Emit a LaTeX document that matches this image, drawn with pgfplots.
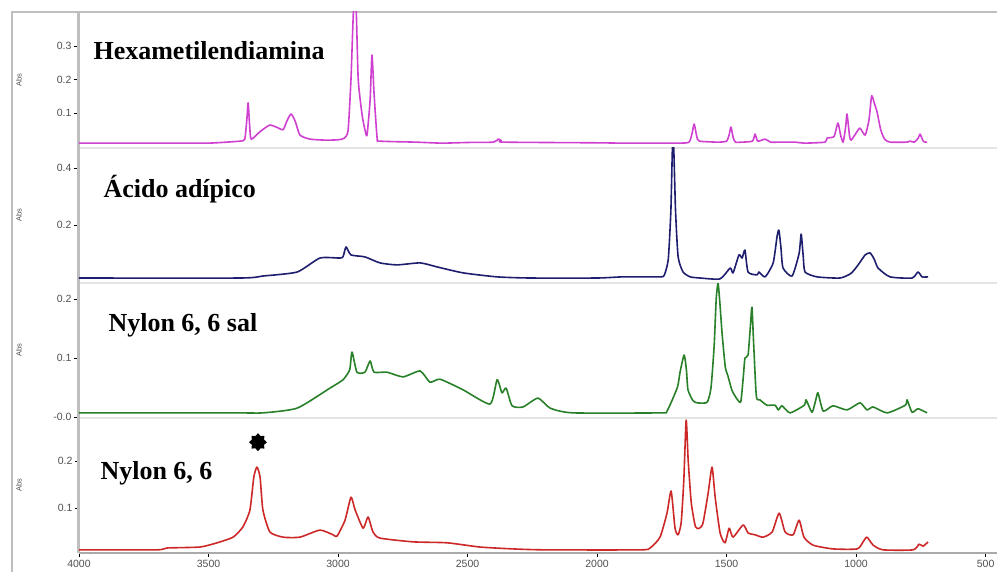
\documentclass[border=0pt]{standalone}
\usepackage{pgfplots}
\pgfplotsset{compat=1.18}
\usepackage{fontspec}
\setmainfont{Liberation Serif}
\newfontfamily\tickfont{Liberation Sans}
\definecolor{cmag}{RGB}{208,64,208}
\definecolor{cnavy}{RGB}{30,30,110}
\definecolor{cgreen}{RGB}{40,128,40}
\definecolor{cred}{RGB}{205,40,40}
\definecolor{frameg}{RGB}{190,190,190}
\definecolor{sepg}{RGB}{228,228,228}
\definecolor{botg}{RGB}{170,170,170}
\definecolor{ticktext}{RGB}{80,80,80}

\pgfdeclareplotmark{burst}{%
  \pgfmathsetlengthmacro\rO{\pgfplotmarksize}%
  \pgfmathsetlengthmacro\rI{0.74*\pgfplotmarksize}%
  \pgfpathmoveto{\pgfpointpolar{90}{\rO}}%
  \pgfpathlineto{\pgfpointpolar{112.5}{\rI}}%
  \pgfpathlineto{\pgfpointpolar{135}{\rO}}%
  \pgfpathlineto{\pgfpointpolar{157.5}{\rI}}%
  \pgfpathlineto{\pgfpointpolar{180}{\rO}}%
  \pgfpathlineto{\pgfpointpolar{202.5}{\rI}}%
  \pgfpathlineto{\pgfpointpolar{225}{\rO}}%
  \pgfpathlineto{\pgfpointpolar{247.5}{\rI}}%
  \pgfpathlineto{\pgfpointpolar{270}{\rO}}%
  \pgfpathlineto{\pgfpointpolar{292.5}{\rI}}%
  \pgfpathlineto{\pgfpointpolar{315}{\rO}}%
  \pgfpathlineto{\pgfpointpolar{337.5}{\rI}}%
  \pgfpathlineto{\pgfpointpolar{0}{\rO}}%
  \pgfpathlineto{\pgfpointpolar{22.5}{\rI}}%
  \pgfpathlineto{\pgfpointpolar{45}{\rO}}%
  \pgfpathlineto{\pgfpointpolar{67.5}{\rI}}%
  \pgfpathclose
  \pgfusepathqfill
}

\pgfplotsset{
  panel/.style={
    scale only axis, width=918pt, height=135pt,
    xmin=456, xmax=4000, x dir=reverse,
    axis x line*=bottom, axis y line*=left,
    x axis line style={-, draw=sepg, line width=2pt},
    y axis line style={-, draw=frameg, line width=3pt},
    xtick=\empty,
    tick align=outside, ytick pos=left,
    major tick length=5pt,
    tick style={black, line width=0.7pt},
    yticklabel style={font=\tickfont\fontsize{10.5}{12}\selectfont, text=ticktext, xshift=1pt},
    ylabel={Abs},
    every axis y label/.style={at={(axis description cs:-0.0654,0.5)}, anchor=center, rotate=90,
      font=\tickfont\fontsize{7.5}{9}\selectfont, text=ticktext},
    spec/.style={line width=1.6pt, line join=round, no marks, smooth, tension=0.35},
  }
}

\begin{document}
\begin{tikzpicture}
\useasboundingbox (0pt,0pt) rectangle (997pt,-572pt);
\draw[frameg, line width=1.2pt] (12pt,-572pt) -- (12pt,-12pt) -- (997pt,-12pt);

% Panel 1: Hexametilendiamina
\begin{axis}[panel, at={(79pt,-148pt)}, anchor=south west, height=136pt,
  ymin=-0.0045, ymax=0.4015, ytick={0.1,0.2,0.3}, yticklabels={0.1,0.2,0.3}]
\addplot[spec, cmag] coordinates {
(4000,0.010) (3700,0.010) (3506,0.010) (3450,0.012) (3378,0.016) (3360,0.022)
(3352,0.080) (3347,0.130) (3341,0.060) (3335,0.022) (3300,0.045) (3263,0.064)
(3230,0.055) (3212,0.050) (3195,0.080) (3181,0.097) (3165,0.075) (3147,0.034)
(3108,0.022) (3050,0.019) (3000,0.020) (2975,0.025) (2961,0.049) (2950,0.200)
(2940,0.410) (2930,0.410) (2922,0.200) (2907,0.094) (2896,0.050) (2888,0.034)
(2876,0.140) (2869,0.273) (2861,0.160) (2849,0.025) (2838,0.016) (2700,0.013)
(2598,0.010) (2500,0.012) (2400,0.013) (2382,0.022) (2370,0.018) (2360,0.013)
(2000,0.011) (1900,0.010) (1691,0.010) (1645,0.013) (1633,0.040) (1625,0.067)
(1615,0.030) (1605,0.016) (1530,0.013) (1500,0.016) (1490,0.035) (1483,0.058)
(1474,0.025) (1465,0.013) (1440,0.013) (1400,0.016) (1390,0.037) (1380,0.016)
(1351,0.022) (1330,0.013) (1300,0.013) (1236,0.013) (1200,0.010) (1120,0.013)
(1112,0.025) (1085,0.030) (1070,0.070) (1060,0.035) (1050,0.013) (1040,0.060)
(1035,0.097) (1025,0.030) (1019,0.019) (1000,0.040) (985,0.055) (965,0.034)
(950,0.080) (940,0.151) (930,0.130) (919,0.103) (905,0.050) (890,0.022)
(869,0.013) (803,0.013) (792,0.016) (775,0.013) (760,0.025) (753,0.037)
(740,0.015) (726,0.013)
};
\end{axis}

% Panel 2: Acido adipico
\begin{axis}[panel, at={(79pt,-283pt)}, anchor=south west,
  ymin=-0.0035, ymax=0.470, ytick={0.2,0.4}, yticklabels={0.2,0.4}]
\addplot[spec, cnavy] coordinates {
(4000,0.014) (3378,0.014) (3290,0.021) (3158,0.035) (3070,0.084) (2992,0.084)
(2980,0.090) (2969,0.123) (2950,0.095) (2896,0.088) (2838,0.067) (2772,0.060)
(2683,0.067) (2618,0.053) (2517,0.032) (2386,0.018) (2259,0.014) (2000,0.014)
(1900,0.018) (1757,0.018) (1740,0.025) (1725,0.080) (1715,0.250) (1709,0.470)
(1704,0.470) (1697,0.250) (1687,0.088) (1668,0.035) (1640,0.018) (1602,0.014)
(1525,0.011) (1486,0.049) (1475,0.032) (1452,0.095) (1440,0.084) (1429,0.112)
(1417,0.035) (1382,0.025) (1375,0.035) (1351,0.018) (1320,0.067) (1305,0.160)
(1298,0.182) (1290,0.120) (1282,0.049) (1247,0.021) (1220,0.100) (1212,0.168)
(1204,0.090) (1197,0.035) (1151,0.018) (1062,0.014) (1020,0.030) (992,0.060)
(965,0.095) (946,0.102) (930,0.080) (915,0.049) (869,0.018) (784,0.014)
(761,0.035) (745,0.018) (722,0.018)
};
\end{axis}

% Panel 3: Nylon 6,6 sal
\begin{axis}[panel, at={(79pt,-418pt)}, anchor=south west,
  ymin=-0.0017, ymax=0.2271, ytick={0,0.1,0.2}, yticklabels={-0.0,0.1,0.2}]
\addplot[spec, cgreen] coordinates {
(4000,0.007) (3400,0.007) (3290,0.007) (3158,0.015) (3031,0.049) (2981,0.063)
(2955,0.080) (2946,0.110) (2927,0.076) (2896,0.076) (2876,0.095) (2861,0.076)
(2811,0.076) (2749,0.068) (2683,0.078) (2645,0.059) (2606,0.064) (2517,0.046)
(2413,0.022) (2386,0.063) (2367,0.041) (2351,0.049) (2328,0.019) (2286,0.017)
(2228,0.032) (2181,0.015) (2093,0.007) (1757,0.007) (1730,0.010) (1690,0.050)
(1680,0.075) (1664,0.105) (1655,0.080) (1649,0.046) (1630,0.028) (1614,0.024)
(1575,0.025) (1560,0.050) (1548,0.120) (1540,0.200) (1533,0.227) (1527,0.200)
(1517,0.140) (1505,0.085) (1495,0.070) (1479,0.045) (1459,0.030) (1445,0.026)
(1435,0.070) (1429,0.100) (1417,0.105) (1407,0.160) (1402,0.186) (1395,0.120)
(1385,0.035) (1371,0.029) (1344,0.020) (1313,0.020) (1300,0.012) (1286,0.019)
(1255,0.007) (1200,0.020) (1193,0.029) (1170,0.008) (1155,0.030) (1147,0.041)
(1127,0.010) (1089,0.019) (1035,0.012) (985,0.024) (958,0.012) (934,0.017)
(880,0.007) (810,0.020) (803,0.029) (784,0.008) (761,0.014) (726,0.007)
};
\end{axis}

% Panel 4: Nylon 6,6
\begin{axis}[panel, at={(79pt,-553pt)}, anchor=south west,
  ymin=0.0043, ymax=0.2915, ytick={0.1,0.2}, yticklabels={0.1,0.2},
  x axis line style={-, draw=botg, line width=2pt},
  xtick={4000,3500,3000,2500,2000,1500,1000,500},
  xticklabels={4000,3500,3000,2500,2000,1500,1000,500},
  xtick pos=bottom, major tick length=4pt,
  xticklabel style={font=\tickfont\fontsize{10.5}{12}\selectfont, text=ticktext}]
\addplot[spec, cred] coordinates {
(4000,0.011) (3700,0.011) (3660,0.015) (3533,0.017) (3467,0.026) (3405,0.038)
(3367,0.060) (3340,0.096) (3325,0.166) (3313,0.187) (3301,0.166) (3290,0.096)
(3263,0.049) (3212,0.038) (3147,0.038) (3070,0.053) (3019,0.043) (3004,0.040)
(2973,0.074) (2950,0.123) (2934,0.096) (2903,0.057) (2884,0.081) (2865,0.049)
(2838,0.036) (2710,0.028) (2579,0.026) (2452,0.017) (2324,0.013) (2200,0.011)
(1834,0.011) (1795,0.015) (1757,0.038) (1730,0.089) (1714,0.136) (1699,0.057)
(1687,0.043) (1675,0.070) (1665,0.160) (1656,0.287) (1648,0.200) (1636,0.110)
(1620,0.060) (1605,0.057) (1591,0.068) (1571,0.132) (1556,0.187) (1544,0.123)
(1525,0.047) (1506,0.026) (1490,0.057) (1475,0.038) (1436,0.064) (1417,0.047)
(1390,0.043) (1359,0.038) (1324,0.049) (1297,0.089) (1274,0.049) (1243,0.043)
(1220,0.074) (1201,0.038) (1166,0.021) (1089,0.013) (996,0.013) (973,0.028)
(958,0.038) (934,0.021) (896,0.011) (780,0.011) (757,0.023) (741,0.019)
(722,0.028)
};
\addplot[only marks, mark=burst, mark size=9pt, draw=none, fill=black] coordinates {(3309,0.240)};
\end{axis}

\node[anchor=base west, font=\bfseries\fontsize{26}{30}\selectfont] at (90pt,-60pt) {Hexametilendiamina};
\node[anchor=base west, font=\bfseries\fontsize{26}{30}\selectfont] at (100pt,-198pt) {Ácido adípico};
\node[anchor=base west, font=\bfseries\fontsize{26}{30}\selectfont] at (105pt,-332pt) {Nylon 6, 6 sal};
\node[anchor=base west, font=\bfseries\fontsize{26}{30}\selectfont] at (97pt,-479pt) {Nylon 6, 6};
\end{tikzpicture}
\end{document}
